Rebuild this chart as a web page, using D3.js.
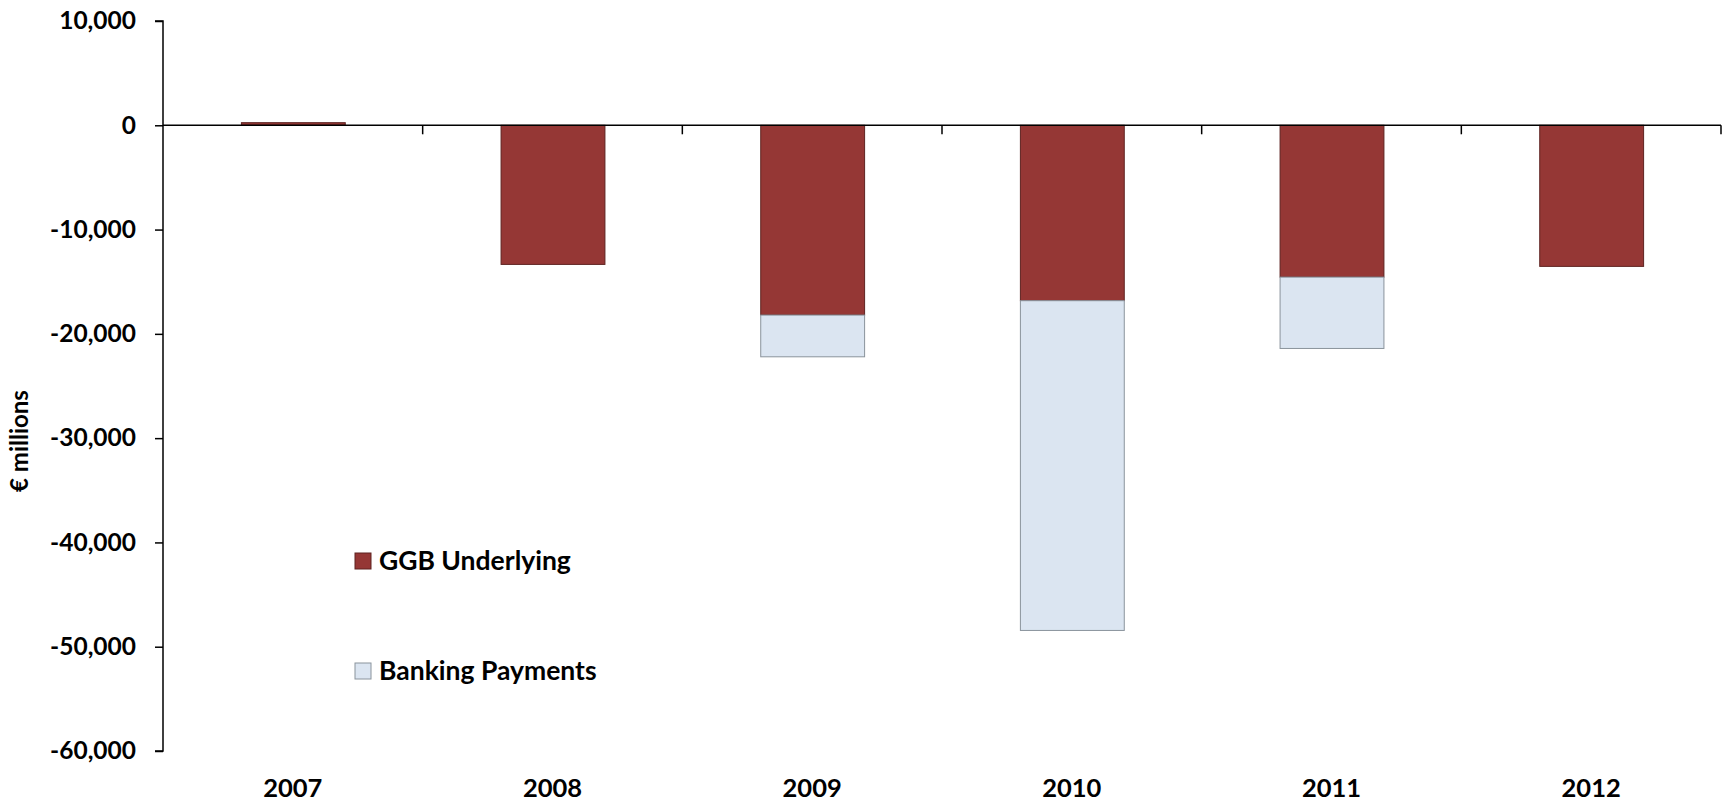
<!DOCTYPE html>
<html>
<head>
<meta charset="utf-8">
<script src="https://cdn.jsdelivr.net/npm/d3@7/dist/d3.min.js"></script>
<style>
  html, body { margin: 0; padding: 0; background: #fff; }
  svg { display: block; }
  text { font-family: Lato, "Open Sans", sans-serif; font-weight: bold; fill: #000; }
</style>
</head>
<body>
<svg id="chart" width="1729" height="803"></svg>
<script>
// Fiscal balance components, € millions
const years = ["2007", "2008", "2009", "2010", "2011", "2012"];
const ggbUnderlying = [250, -13340, -18200, -16820, -14560, -13530];
const bankingPayments = [0, 0, -4000, -31620, -6840, 0];
const seriesNames = ["GGB Underlying", "Banking Payments"];
const seriesColors = ["#953735", "#dbe5f1"];
const seriesStrokes = ["#5e2321", "#8a939c"];
const yTicks = [10000, 0, -10000, -20000, -30000, -40000, -50000, -60000];

const svg = d3.select("#chart");
const plot = { left: 163, right: 1721, top: 21, bottom: 751 };

const x = d3.scaleBand()
  .domain(years)
  .range([plot.left, plot.right])
  .paddingInner(0.6)
  .paddingOuter(0.3);

const y = d3.scaleLinear()
  .domain([-60000, 10000])
  .range([plot.bottom, plot.top]);

// Stack each year's components downward from zero
const rows = years.map((yr, i) => {
  const g = ggbUnderlying[i], b = bankingPayments[i];
  return [
    { year: yr, s: 0, y0: 0, y1: g },
    { year: yr, s: 1, y0: g, y1: g + b }
  ];
}).flat().filter(d => d.y0 !== d.y1);

svg.append("g").selectAll("rect")
  .data(rows)
  .join("rect")
  .attr("x", d => x(d.year) + 0.5)
  .attr("width", x.bandwidth())
  .attr("y", d => Math.min(y(d.y0), y(d.y1)))
  .attr("height", d => Math.abs(y(d.y1) - y(d.y0)))
  .attr("fill", d => seriesColors[d.s])
  .attr("stroke", d => seriesStrokes[d.s])
  .attr("stroke-width", 1);

// Y axis; thousands separated with commas, plain hyphen for negatives
const fmt = d3.format(",");
const yAxis = d3.axisLeft(y)
  .tickValues(yTicks)
  .tickFormat(d => fmt(d).replace("\u2212", "-"))
  .tickSize(8)
  .tickPadding(19);

const gy = svg.append("g")
  .attr("transform", `translate(${plot.left},0)`)
  .call(yAxis);
gy.select(".domain").attr("stroke", "#000").attr("stroke-width", 1.5)
  .attr("d", `M-8,${plot.top}H0V${plot.bottom}H-8`);
gy.selectAll(".tick line").attr("stroke", "#000").attr("stroke-width", 1.5);
gy.selectAll(".tick text")
  .style("font-size", "24.5px")
  .style("font-family", "Lato, sans-serif")
  .style("font-weight", "bold")
  .attr("fill", "#000");

// Category axis along the zero line, ticks at the category boundaries
const zeroY = y(0);
const gx = svg.append("g");
gx.append("line")
  .attr("x1", plot.left).attr("x2", plot.right)
  .attr("y1", zeroY).attr("y2", zeroY)
  .attr("stroke", "#000").attr("stroke-width", 1.5);
const boundaries = years.map((_, i) => plot.left + x.step() * (i + 1));
gx.selectAll("line.tk")
  .data(boundaries)
  .join("line")
  .attr("class", "tk")
  .attr("x1", d => d).attr("x2", d => d)
  .attr("y1", zeroY).attr("y2", zeroY + 9)
  .attr("stroke", "#000").attr("stroke-width", 1.5);

// Year labels beneath the plot
svg.append("g").selectAll("text")
  .data(years)
  .join("text")
  .attr("x", d => x(d) + x.bandwidth() / 2)
  .attr("y", 797)
  .attr("text-anchor", "middle")
  .style("font-size", "25.5px")
  .text(d => d);

// Y axis title
svg.append("text")
  .attr("transform", `translate(28,441) rotate(-90)`)
  .attr("text-anchor", "middle")
  .style("font-size", "24px")
  .text("€ millions");

// Legend
const legend = svg.append("g");
const legendY = [561, 671];
seriesNames.forEach((name, i) => {
  legend.append("rect")
    .attr("x", 355).attr("y", legendY[i] - 8)
    .attr("width", 16).attr("height", 16)
    .attr("fill", seriesColors[i])
    .attr("stroke", seriesStrokes[i]);
  legend.append("text")
    .attr("x", 379).attr("y", legendY[i])
    .attr("dy", "0.35em")
    .style("font-size", "26.5px")
    .text(name);
});
</script>
</body>
</html>
